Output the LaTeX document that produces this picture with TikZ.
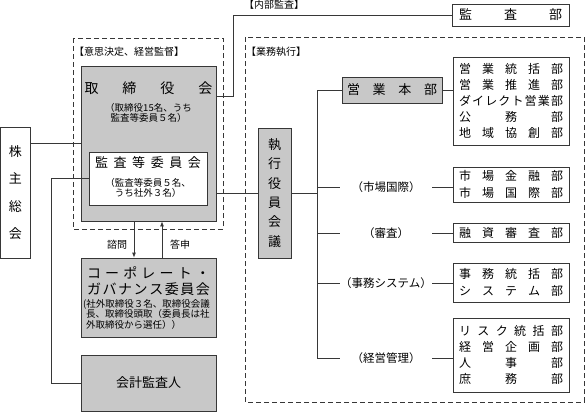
\documentclass[tikz,border=0pt]{standalone}
\usepackage{fontspec}
\setmainfont{Noto Sans CJK JP}
\usetikzlibrary{positioning, arrows.meta}
\definecolor{boxgray}{RGB}{200,200,200}
\definecolor{linegray}{RGB}{55,55,55}
\newcommand{\spaced}[2]{\makebox[#1][s]{\spacedfirst#2\relax}}
\def\spacedfirst#1{#1\spacedrest}
\def\spacedrest#1{\ifx#1\relax\else\hfil#1\expandafter\spacedrest\fi}
\newcommand{\deptline}[1]{\spaced{104pt}{#1}}
\tikzset{
  graybox/.style={draw=linegray, fill=boxgray, line width=0.8pt, inner sep=0pt},
  whitebox/.style={draw=linegray, fill=white, line width=0.8pt, inner sep=0pt},
  deptbox/.style={whitebox, minimum width=116pt, align=center, font=\fontsize{12}{16.2}\selectfont},
  area/.style={draw=linegray, line width=0.7pt, dash pattern=on 5pt off 3pt},
  conn/.style={draw=linegray, line width=0.8pt},
  title/.style={inner sep=0pt, font=\fontsize{14}{16}\selectfont},
  note/.style={inner sep=0pt, align=center, font=\fontsize{9.5}{10.5}\selectfont},
  tag/.style={inner sep=0pt, font=\fontsize{10}{12}\selectfont},
  branchlabel/.style={inner sep=0pt, minimum width=92pt, font=\fontsize{11.5}{13}\selectfont}
}
\begin{document}
\begin{tikzpicture}[x=1pt, y=-1pt]
\useasboundingbox (0,0) rectangle (585,412);

\draw[area] (73,38) rectangle (223,229);
\draw[area] (245,37) rectangle (584,402);
\node[tag, anchor=west] (decisiontag) at (74,52) {【意思決定、経営監督】};
\node[tag, anchor=west] (executiontag) at (246,52) {【業務執行】};

\node[whitebox, minimum width=30pt, minimum height=131pt, align=center, font=\fontsize{13}{27.5}\selectfont] (holders) at (15.5,192.5) {株\\主\\総\\会};

\node[graybox, minimum width=135pt, minimum height=155pt] (board) at (148.5,143.5) {};
\node[title] (boardname) at (148.5,88) {\spaced{128pt}{取締役会}};
\node[note] (boardnote) at (148.5,113) {（取締役15名、うち\\監査等委員５名）};
\node[whitebox, minimum width=118pt, minimum height=53pt] (auditc) at (148,178.5) {};
\node[title, font=\fontsize{13}{15}\selectfont] (auditcname) at (148,163) {\spaced{106pt}{監査等委員会}};
\node[note] (auditcnote) at (148,188) {（監査等委員５名、\\うち社外３名）};

\node[graybox, minimum width=135pt, minimum height=79pt] (cg) at (148.5,297.5) {};
\node[title, align=center] (cgname) at (148.5,281) {\spaced{123pt}{コーポレート・}\\\spaced{123pt}{ガバナンス委員会}};
\node[note, align=left, anchor=west] (cgnote) at (83,314) {(社外取締役３名、取締役会議\\\hspace*{3pt}長、取締役頭取（委員長は社\\\hspace*{3pt}外取締役から選任））};

\node[graybox, minimum width=135pt, minimum height=56pt, font=\fontsize{13}{15}\selectfont] (cpa) at (148.5,383) {会計監査人};

\node[graybox, minimum width=33pt, minimum height=130pt, align=center, font=\fontsize{13}{19.4}\selectfont] (exec) at (274.5,193) {執\\行\\役\\員\\会\\議};

\node[whitebox, minimum width=117pt, minimum height=22pt, font=\fontsize{13}{15}\selectfont] (auditdept) at (510.5,15) {\spaced{103pt}{監査部}};
\node[tag] (internaltag) at (274,5) {【内部監査】};

\node[graybox, minimum width=100pt, minimum height=26pt, font=\fontsize{13}{15}\selectfont] (salesHQ) at (392,90) {\spaced{90pt}{営業本部}};

\node[deptbox, minimum height=88pt] (sales) at (511,101) {\deptline{営業統括部}\\\deptline{営業推進部}\\\deptline{ダイレクト営業部}\\\deptline{公務部}\\\deptline{地域協創部}};
\node[deptbox, minimum height=35pt] (markets) at (511,184.5) {\deptline{市場金融部}\\\deptline{市場国際部}};
\node[deptbox, minimum height=19pt] (credit) at (511,232.5) {\deptline{融資審査部}};
\node[deptbox, minimum height=39pt] (systems) at (511,282.5) {\deptline{事務統括部}\\\deptline{システム部}};
\node[deptbox, minimum height=74pt] (planning) at (511,355) {\deptline{リスク統括部}\\\deptline{経営企画部}\\\deptline{人事部}\\\deptline{庶務部}};

\node[branchlabel] (marketlabel) at (386,187) {（市場国際）};
\node[branchlabel] (creditlabel) at (386,233) {（審査）};
\node[branchlabel] (systemlabel) at (386,283) {（事務システム）};
\node[branchlabel] (planlabel) at (386,358) {（経営管理）};

\coordinate (trunktop) at (317,90);
\coordinate (trunkbot) at (317,358);

\draw[conn] (holders.east |- board.west) -- (board.west);
\draw[conn] (board.east |- exec.west) -- (exec.west);
\draw[conn] ([yshift=47.5pt]board.east) -- ++(17,0) |- (auditdept.west);
\draw[conn] (auditc.west) -- ++(-37,0) |- (cpa.west);
\draw[conn, -{Latex[length=5pt, width=4pt]}] ([xshift=-14.5pt]board.south) -- ([xshift=-14.5pt]board.south |- cg.north);
\draw[conn, -{Latex[length=5pt, width=4pt]}] ([xshift=13.5pt]cg.north) -- ([xshift=13.5pt]cg.north |- board.south);
\node[tag] (consultlabel) at (117,245) {諮問};
\node[tag] (replylabel) at (180,245) {答申};

\draw[conn] (exec.east) -- (exec.east -| trunktop);
\draw[conn] (trunktop) -- (trunkbot);
\draw[conn] (trunktop) -- (salesHQ.west);
\draw[conn] (salesHQ.east) -- (salesHQ.east -| sales.west);
\draw[conn] (marketlabel.west -| trunktop) -- (marketlabel.west);
\draw[conn] (marketlabel.east) -- (marketlabel.east -| markets.west);
\draw[conn] (creditlabel.west -| trunktop) -- (creditlabel.west);
\draw[conn] (creditlabel.east) -- (creditlabel.east -| credit.west);
\draw[conn] (systemlabel.west -| trunktop) -- (systemlabel.west);
\draw[conn] (systemlabel.east) -- (systemlabel.east -| systems.west);
\draw[conn] (trunkbot) -- (planlabel.west);
\draw[conn] (planlabel.east) -- (planlabel.east -| planning.west);
\end{tikzpicture}
\end{document}
